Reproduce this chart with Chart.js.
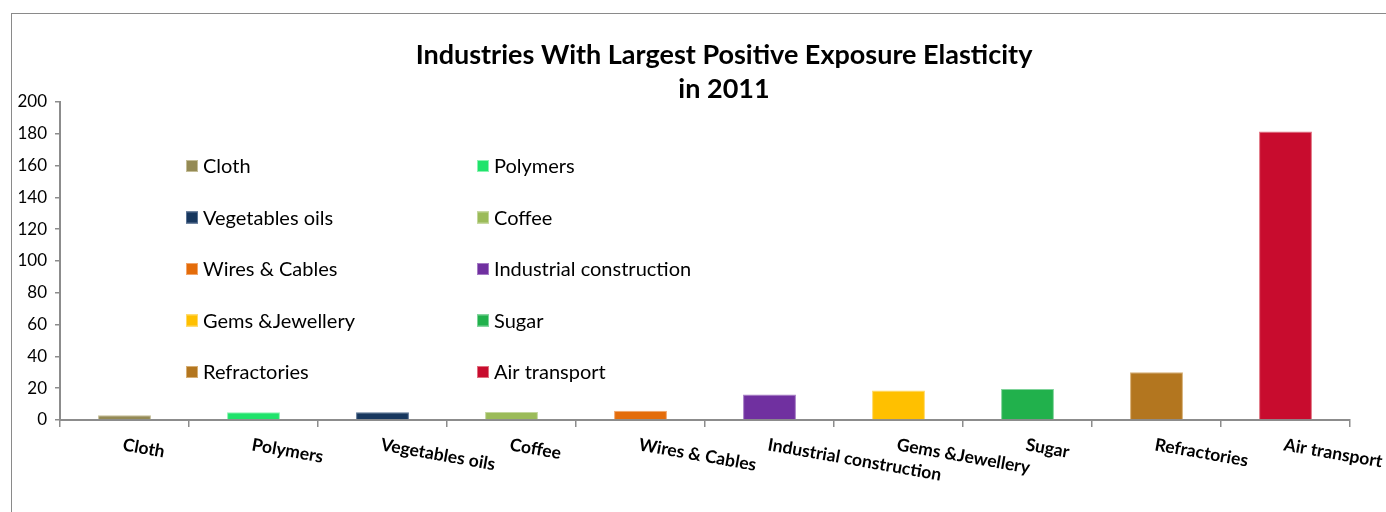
<!DOCTYPE html>
<html>
<head>
<meta charset="utf-8">
<script src="https://cdn.jsdelivr.net/npm/chart.js@4"></script>
<style>
html, body { margin: 0; padding: 0; background: #fff; }
#wrap { position: relative; width: 1386px; height: 512px; overflow: hidden; }
#frame { position: absolute; left: 11px; top: 13px; width: 1500px; height: 600px;
         border-left: 1px solid #8a8a8a; border-top: 1px solid #8a8a8a; }
canvas { position: absolute; left: 0; top: 0; }
</style>
</head>
<body>
<div id="wrap">
  <div id="frame"></div>
  <canvas id="chart" width="1386" height="512"></canvas>
</div>
<script>
// ==================== Data ====================
const titleLines = ['Industries With Largest Positive Exposure Elasticity', 'in 2011'];
const categories = ['Cloth', 'Polymers', 'Vegetables oils', 'Coffee', 'Wires & Cables',
                    'Industrial construction', 'Gems &Jewellery', 'Sugar', 'Refractories', 'Air transport'];
const values = [3, 4.8, 4.8, 5, 5.8, 16, 18.5, 19.5, 30, 181.5];
const yMin = 0, yMax = 200, yStep = 20;

const barColors = ['#948A54', '#1FE36B', '#17375E', '#9BBB59', '#E46C0A',
                   '#7030A0', '#FFC000', '#21B14C', '#B3761F', '#C80C2E'];
const borderColors = ['#C4BD97', '#8CF2B2', '#5A7394', '#C3D69B', '#F2A56A',
                      '#A57BC4', '#FFD966', '#7FD39A', '#D6AE74', '#E0707F'];

const FONT = 'Lato, "Open Sans", sans-serif';

// ==================== Extra drawing: title, rotated labels, legend ====================
const extrasPlugin = {
    id: 'extras',
    afterDraw(chart) {
        const ctx = chart.ctx;
        const xs = chart.scales.x;
        ctx.save();

        // title
        ctx.fillStyle = '#000';
        ctx.font = 'bold 27px ' + FONT;
        ctx.textAlign = 'center';
        ctx.textBaseline = 'middle';
        ctx.fillText(titleLines[0], 724, 55);
        ctx.fillText(titleLines[1], 724, 89);

        // x labels rotated clockwise, starting at the category centre
        ctx.font = 'bold 17.5px ' + FONT;
        ctx.textBaseline = 'top';
        ctx.textAlign = 'left';
        categories.forEach((c, i) => {
            const px = xs.getPixelForTick(i);
            ctx.save();
            ctx.translate(px, 436);
            ctx.rotate(10 * Math.PI / 180);
            ctx.fillText(c, 0, 0);
            ctx.restore();
        });

        // legend, two columns
        ctx.font = '20px ' + FONT;
        ctx.textBaseline = 'middle';
        categories.forEach((c, i) => {
            const col = i % 2, row = Math.floor(i / 2);
            const lx = col === 0 ? 186 : 477;
            const ly = 166 + row * 51.5;
            ctx.fillStyle = barColors[i];
            ctx.fillRect(lx, ly - 6, 12, 12);
            ctx.strokeStyle = borderColors[i];
            ctx.lineWidth = 1;
            ctx.strokeRect(lx + 0.5, ly - 5.5, 11, 11);
            ctx.fillStyle = '#000';
            ctx.fillText(c, lx + 17, ly + 1);
        });
        ctx.restore();
    }
};

// ==================== Chart ====================
const ctx = document.getElementById('chart').getContext('2d');
new Chart(ctx, {
    type: 'bar',
    data: {
        labels: categories,
        datasets: [{
            data: values,
            backgroundColor: barColors,
            borderColor: borderColors,
            borderWidth: 1,
            categoryPercentage: 1,
            barPercentage: 0.41
        }]
    },
    options: {
        responsive: false,
        animation: false,
        layout: { padding: { left: 0, right: 36, top: 102, bottom: 0 } },
        plugins: {
            legend: { display: false },
            tooltip: { enabled: false },
            title: { display: false }
        },
        scales: {
            x: {
                afterFit: s => { s.height = 92; },
                ticks: { display: false },
                grid: { display: true, offset: true, drawOnChartArea: false, drawTicks: true,
                        tickLength: 7, color: '#8c8c8c', lineWidth: 1.5 },
                border: { display: true, color: '#8c8c8c', width: 2 }
            },
            y: {
                min: yMin,
                max: yMax,
                afterFit: s => { s.width = 60; },
                ticks: { stepSize: yStep, color: '#000', font: { size: 17, family: FONT }, padding: 8 },
                grid: { display: true, drawOnChartArea: false, drawTicks: true, tickLength: 5,
                        color: '#8c8c8c', lineWidth: 1.5 },
                border: { display: true, color: '#8c8c8c', width: 2 }
            }
        }
    },
    plugins: [extrasPlugin]
});
</script>
</body>
</html>
